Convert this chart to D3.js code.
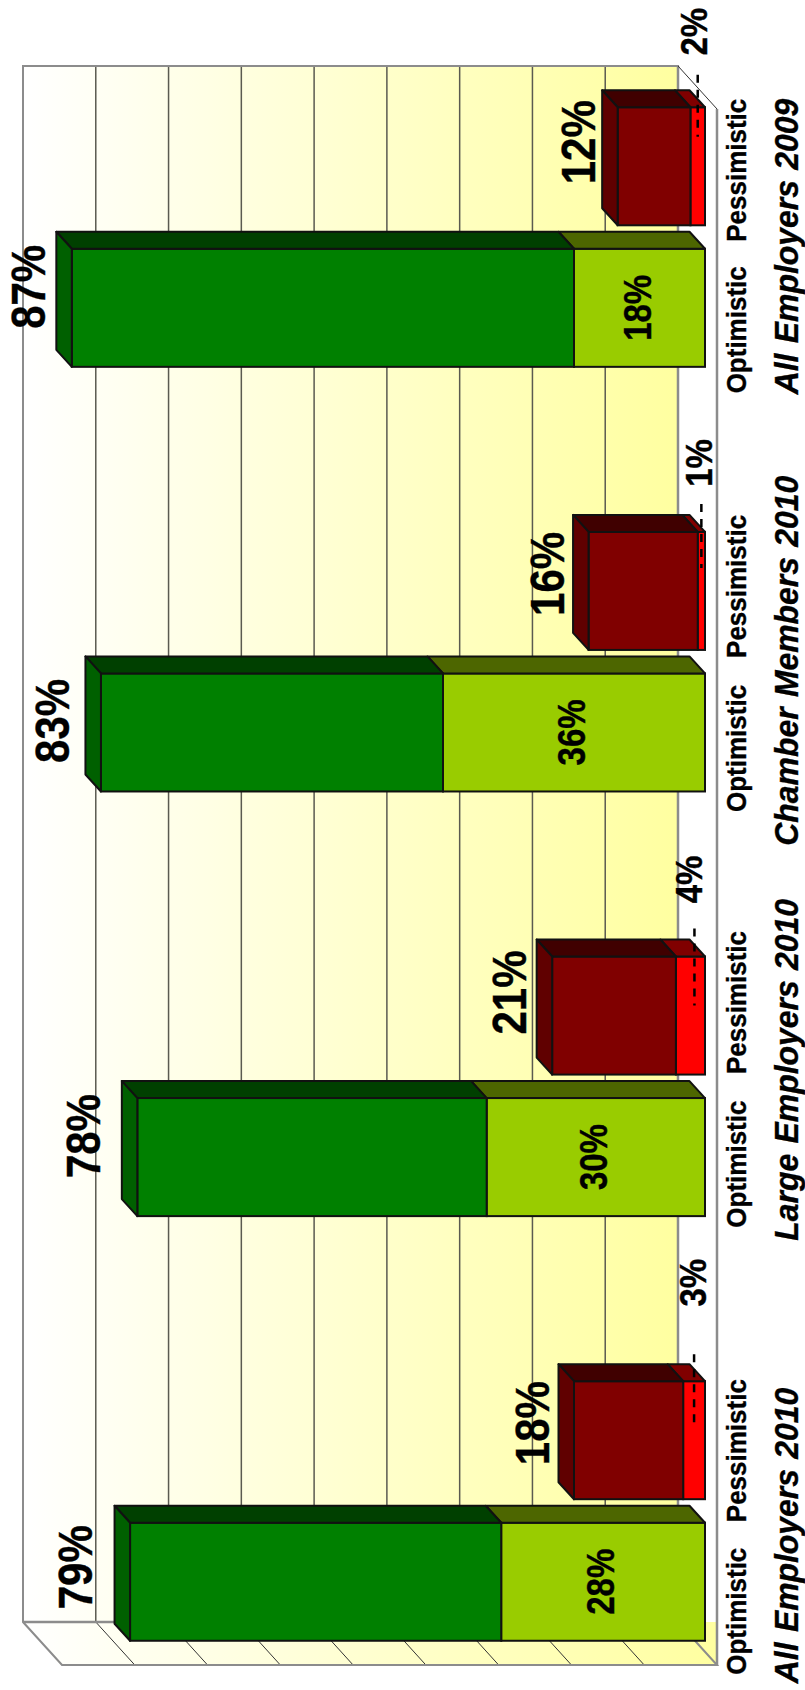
<!DOCTYPE html>
<html>
<head>
<meta charset="utf-8">
<script src="https://cdn.jsdelivr.net/npm/d3@7/dist/d3.min.js"></script>
<style>
html,body{margin:0;padding:0;background:#fff;overflow:hidden}
svg{display:block}
text{font-family:"Liberation Sans",Arial,sans-serif;font-weight:bold;fill:#000;stroke:#000;stroke-width:.35px}
</style>
</head>
<body>
<script>
// Data (reading bottom to top in the picture)
const categories = ["All Employers 2010","Large Employers 2010","Chamber Members 2010","All Employers 2009"];
const optimisticTotal = [79,78,83,87];
const optimisticVery  = [28,30,36,18];
const pessimisticTotal = [18,21,16,12];
const pessimisticVery  = [3,4,1,2];
const seriesNames = ["Optimistic","Pessimistic"];
const gridTicks = [10,20,30,40,50,60,70,80];

// Hand-placed label nudges of the original, per category (px)
const optTotalNudge = [[-23,-14.5],[-22,-21],[-16,-11.5],[-11,-21]];
const pesTotalNudge = [[-10,-17],[-11,-23],[-9,-17],[-7,-24]];
const smallNudge = [[1,-157.5],[-3,-136],[7,-128],[2,-134.5]];
const leaderNudge = [[-86,-13.5],[-87,-10],[-87,-23],[-91.5,-29.5]];
const leaderDx = [0,4,0,0];
const titleNudge = [24.5,-16.5,-1,9.5];
const optLabelNudge = [29.5,7,16,22];
const pesLabelNudge = [10.5,-13,-4.5,4];

const W=805,H=1690;
const svg=d3.select("body").append("svg").attr("width",W).attr("height",H);
const defs=svg.append("defs");
const grad=defs.append("linearGradient").attr("id","wallGrad");
grad.append("stop").attr("offset","0").attr("stop-color","#ffffff");
grad.append("stop").attr("offset","1").attr("stop-color","#ffffa0");
const gradF=defs.append("linearGradient").attr("id","floorGrad");
gradF.append("stop").attr("offset","0").attr("stop-color","#ffffff");
gradF.append("stop").attr("offset","1").attr("stop-color","#ffffa0");

const wallX={l:23,r:678,t:66,b:1622};
const depth={x:39,y:43};
const barDepth={x:15.5,y:17};

const x=d3.scaleLinear().domain([0,90]).range([705,50]);
const wall=d3.scaleLinear().domain([0,90]).range([wallX.r,wallX.l]);

const n=categories.length;
const slots=[];
for(let i=n-1;i>=0;i--){
  slots.push("P"+i,"O"+i);
  if(i>0)slots.push("gap"+i);
}
const y=d3.scaleBand().domain(slots).range([95.5,1652.5]).paddingInner(0.166).paddingOuter(0.083);
const bw=y.bandwidth();

// Wall and floor
svg.append("rect").attr("x",wallX.l).attr("y",wallX.b).attr("width",wallX.r+depth.x-wallX.l+1).attr("height",depth.y)
  .attr("fill","url(#floorGrad)");
svg.append("path").attr("d",`M${wallX.l},${wallX.b}L${wallX.l},${wallX.b+depth.y+1}L${wallX.l+depth.x-1},${wallX.b+depth.y+1}Z`).attr("fill","#fff");
svg.append("rect").attr("x",wallX.l).attr("y",wallX.t).attr("width",wallX.r-wallX.l).attr("height",wallX.b-wallX.t)
  .attr("fill","url(#wallGrad)");

const grid=svg.append("g");
grid.selectAll("line.g").data(gridTicks).join("line")
  .attr("x1",wall).attr("x2",wall).attr("y1",wallX.t).attr("y2",wallX.b)
  .attr("stroke","#5a5a50").attr("stroke-width",1.5);
grid.selectAll("line.f").data(gridTicks).join("line").attr("class","f")
  .attr("x1",wall).attr("x2",d=>wall(d)+depth.x).attr("y1",wallX.b).attr("y2",wallX.b+depth.y)
  .attr("stroke","#333").attr("stroke-width",1);

const frame="#8c8c8c";
svg.append("path").attr("fill","none").attr("stroke",frame).attr("stroke-width",2)
  .attr("d",`M${wallX.r},${wallX.t}L${wallX.l},${wallX.t}L${wallX.l},${wallX.b}L${wallX.l+depth.x},${wallX.b+depth.y}L${wallX.r+depth.x},${wallX.b+depth.y}L${wallX.r},${wallX.b}Z`);
svg.append("path").attr("fill","none").attr("stroke",frame).attr("stroke-width",2.5)
  .attr("d",`M${wallX.l},${wallX.b}L${wallX.r},${wallX.b}M${wallX.r},${wallX.t}L${wallX.r},${wallX.b}M${wallX.r+depth.x},${wallX.t+depth.y}L${wallX.r+depth.x},${wallX.b+depth.y}`);
svg.append("line").attr("x1",wallX.r).attr("y1",wallX.t).attr("x2",wallX.r+depth.x).attr("y2",wallX.t+depth.y)
  .attr("stroke","#333").attr("stroke-width",1);

// Bars
function box(g,v0,v1,yTop,front,top,left,isEnd){
  const a=x(v1),b=x(v0),d=barDepth;
  g.append("rect").attr("x",a).attr("y",yTop).attr("width",b-a).attr("height",bw)
    .attr("fill",front).attr("stroke","#111").attr("stroke-width",2);
  g.append("path").attr("d",`M${a},${yTop}L${a-d.x},${yTop-d.y}L${b-d.x},${yTop-d.y}L${b},${yTop}Z`)
    .attr("fill",top).attr("stroke","#111").attr("stroke-width",2).attr("stroke-linejoin","round");
  if(isEnd){
    g.append("path").attr("d",`M${a},${yTop}L${a-d.x},${yTop-d.y}L${a-d.x},${yTop+bw-d.y}L${a},${yTop+bw}Z`)
      .attr("fill",left).attr("stroke","#111").attr("stroke-width",2).attr("stroke-linejoin","round");
  }
}
const bars=svg.append("g");
categories.forEach((c,i)=>{
  const g=bars.append("g");
  const yO=y("O"+i),yP=y("P"+i);
  box(g,0,optimisticVery[i],yO,"#99cc00","#4d6600","#4d6600",false);
  box(g,optimisticVery[i],optimisticTotal[i],yO,"#008000","#004000","#006000",true);
  box(g,0,pessimisticVery[i],yP,"#ff0000","#800000","#800000",false);
  box(g,pessimisticVery[i],pessimisticTotal[i],yP,"#800000","#400000","#600000",true);
});

function label(px,py,txt,size,stretch){
  return svg.append("text").attr("transform",`translate(${px},${py}) rotate(-90) scale(1,${stretch||1})`)
    .attr("text-anchor","middle").attr("font-size",size).text(txt);
}

categories.forEach((c,i)=>{
  const cO=y("O"+i)+bw/2,cP=y("P"+i)+bw/2;
  // leader for small red values
  const lx=x(pessimisticVery[i]/2)+leaderDx[i];
  svg.append("line").attr("x1",lx).attr("x2",lx)
    .attr("y1",cP+leaderNudge[i][0]).attr("y2",cP+leaderNudge[i][1])
    .attr("stroke","#000").attr("stroke-width",2.5).attr("stroke-dasharray","8 7");
  // inside labels
  label(x(optimisticVery[i]/2)+11,cO,optimisticVery[i]+"%",33,1.15);
  // totals
  label(x(optimisticTotal[i])-barDepth.x+optTotalNudge[i][0],cO+optTotalNudge[i][1],optimisticTotal[i]+"%",42,1.13);
  label(x(pessimisticTotal[i])-barDepth.x+pesTotalNudge[i][0],cP+pesTotalNudge[i][1],pessimisticTotal[i]+"%",42,1.13);
  // small red labels
  label(x(0)+smallNudge[i][0],cP+smallNudge[i][1],pessimisticVery[i]+"%",33,1.12);
  // axis labels
  label(746,cO+optLabelNudge[i],seriesNames[0],26,1.08);
  label(746,cP+pesLabelNudge[i],seriesNames[1],26,1.08);
  // category titles
  const mid=(cO+cP)/2;
  label(798,mid+titleNudge[i],c,31.9,1.02).style("font-style","italic").style("word-spacing","1.5px");
});
</script>
</body>
</html>
